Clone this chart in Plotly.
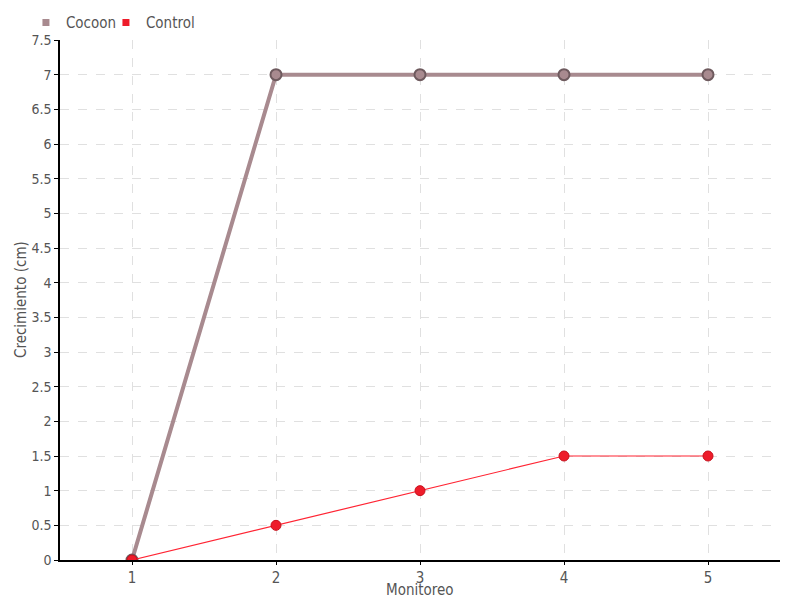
import plotly.graph_objects as go

monitoreo = [1, 2, 3, 4, 5]
cocoon = [0, 7, 7, 7, 7]
control = [0, 0.5, 1, 1.5, 1.5]
y_ticks = [0, 0.5, 1, 1.5, 2, 2.5, 3, 3.5, 4, 4.5, 5, 5.5, 6, 6.5, 7, 7.5]
y_tick_text = ["0", "0.5", "1", "1.5", "2", "2.5", "3", "3.5", "4", "4.5", "5", "5.5", "6", "6.5", "7", "7.5"]

FONT = "Liberation Sans Narrow, DejaVu Sans Condensed, sans-serif"
COCOON_C = "#a88a8f"
CONTROL_C = "#ff2433"

fig = go.Figure()
fig.add_trace(go.Scatter(
    x=monitoreo, y=cocoon, name="Cocoon", mode="lines+markers", showlegend=False,
    line=dict(color=COCOON_C, width=4),
    marker=dict(size=11, color=COCOON_C, line=dict(color="#6e5a5e", width=2)),
))
fig.add_trace(go.Scatter(
    x=monitoreo, y=control, name="Control", mode="lines+markers", showlegend=False,
    line=dict(color=CONTROL_C, width=1.2),
    marker=dict(size=10, color="#ee1c2a", line=dict(color="#c8101c", width=1)),
))
# legend-only entries with square symbols, one per legend for tight placement
fig.add_trace(go.Scatter(
    x=[None], y=[None], name="Cocoon", mode="markers", legend="legend",
    marker=dict(symbol="square", size=7, color=COCOON_C),
))
fig.add_trace(go.Scatter(
    x=[None], y=[None], name="Control", mode="markers", legend="legend2",
    marker=dict(symbol="square", size=7, color="#ee1c2a"),
))

leg_common = dict(orientation="h", xanchor="left", y=1.033, yanchor="middle",
                  font=dict(family=FONT, size=15, color="#555555"), itemwidth=30,
                  bgcolor="rgba(0,0,0,0)")

fig.update_layout(
    width=800, height=600,
    margin=dict(l=52, r=28, t=32, b=48, autoexpand=False),
    paper_bgcolor="white", plot_bgcolor="white",
    font=dict(family=FONT, size=15, color="#555555"),
    showlegend=True,
    legend=dict(x=-0.0473, **leg_common),
    legend2=dict(x=-0.0473 + 80 / 720, **leg_common),
    xaxis=dict(
        range=[0.5, 5.5], tickvals=monitoreo, ticktext=[str(v) for v in monitoreo],
        showline=True, linecolor="black", linewidth=1.5,
        ticks="outside", ticklen=3, tickcolor="black",
        tickfont=dict(family=FONT, size=15, color="#555555"),
        showgrid=True, gridcolor="#e0e0e0", griddash="dash", gridwidth=1,
        zeroline=False, automargin=False,
    ),
    yaxis=dict(
        range=[0, 7.5], tickvals=y_ticks, ticktext=y_tick_text,
        showline=True, linecolor="black", linewidth=1.5,
        ticks="outside", ticklen=4, tickcolor="black",
        tickfont=dict(family=FONT, size=14, color="#555555"),
        showgrid=True, gridcolor="#e0e0e0", griddash="dash", gridwidth=1,
        zeroline=False, automargin=False,
    ),
    annotations=[
        dict(text="Monitoreo", xref="paper", yref="paper", x=0.5, y=-30 / 520,
             xanchor="center", yanchor="middle", showarrow=False,
             font=dict(family=FONT, size=15, color="#555555")),
        dict(text="Crecimiento (cm)", xref="paper", yref="paper", x=-39 / 720, y=0.5,
             xanchor="center", yanchor="middle", textangle=-90, showarrow=False,
             font=dict(family=FONT, size=15, color="#555555")),
    ],
)

fig.write_html("out.html")
